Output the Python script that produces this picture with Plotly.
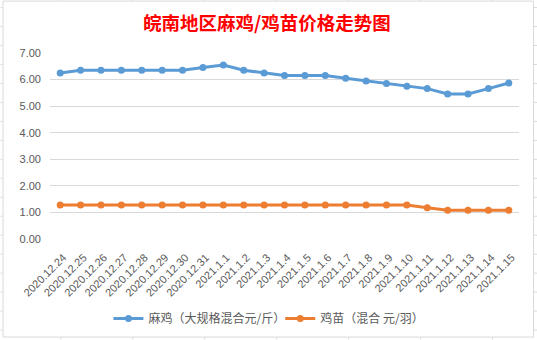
import plotly.graph_objects as go

dates = ["2020.12.24", "2020.12.25", "2020.12.26", "2020.12.27", "2020.12.28",
         "2020.12.29", "2020.12.30", "2020.12.31", "2021.1.1", "2021.1.2",
         "2021.1.3", "2021.1.4", "2021.1.5", "2021.1.6", "2021.1.7", "2021.1.8",
         "2021.1.9", "2021.1.10", "2021.1.11", "2021.1.12", "2021.1.13",
         "2021.1.14", "2021.1.15"]
maji = [6.25, 6.35, 6.35, 6.35, 6.35, 6.35, 6.35, 6.45, 6.55, 6.35, 6.25,
        6.15, 6.15, 6.15, 6.05, 5.95, 5.85, 5.75, 5.66, 5.46, 5.46, 5.66, 5.87]
jimiao = [1.28, 1.28, 1.28, 1.28, 1.28, 1.28, 1.28, 1.28, 1.28, 1.28, 1.28,
          1.28, 1.28, 1.28, 1.28, 1.28, 1.28, 1.28, 1.18, 1.08, 1.08, 1.08, 1.08]
y_ticks = [0, 1, 2, 3, 4, 5, 6, 7]

W, H = 537, 340
L, R, T, B = 49.5, 18, 53, 100.7
pw, ph = W - L - R, H - T - B

def px(x):
    return (x - L) / pw

def py(y):
    return (H - B - y) / ph

fig = go.Figure()
fig.add_trace(go.Scatter(
    x=dates, y=maji, mode="lines+markers", name="麻鸡（大规格混合元/斤）",
    line=dict(color="#5B9BD5", width=3), marker=dict(size=7, color="#5B9BD5"),
    legend="legend"))
fig.add_trace(go.Scatter(
    x=dates, y=jimiao, mode="lines+markers", name="鸡苗（混合 元/羽）",
    line=dict(color="#ED7D31", width=3), marker=dict(size=7, color="#ED7D31"),
    legend="legend2"))

shapes = []
# chart border
shapes.append(dict(type="rect", xref="paper", yref="paper",
                   x0=px(2.5), x1=px(533.5), y0=py(1), y1=py(337.5),
                   line=dict(color="#D9D9D9", width=1), layer="below"))
# spreadsheet cell grid visible outside the chart
for k in range(18):
    yy = 7 + 19 * k + 0.5
    shapes.append(dict(type="line", xref="paper", yref="paper",
                       x0=px(534), x1=px(537), y0=py(yy), y1=py(yy),
                       line=dict(color="#D9D9D9", width=1)))
    shapes.append(dict(type="line", xref="paper", yref="paper",
                       x0=px(0), x1=px(2), y0=py(yy), y1=py(yy),
                       line=dict(color="#D9D9D9", width=1)))
for k in range(7):
    xx = 60 + 72 * k + 0.5
    shapes.append(dict(type="line", xref="paper", yref="paper",
                       x0=px(xx), x1=px(xx), y0=py(338), y1=py(340),
                       line=dict(color="#D9D9D9", width=1)))
    shapes.append(dict(type="line", xref="paper", yref="paper",
                       x0=px(xx), x1=px(xx), y0=py(0), y1=py(0.9),
                       line=dict(color="#D9D9D9", width=1)))

legend_font = dict(family="Noto Sans CJK SC", size=12, color="#595959")

fig.update_layout(
    width=W, height=H,
    margin=dict(l=L, r=R, t=T, b=B, pad=0, autoexpand=False),
    paper_bgcolor="white", plot_bgcolor="white",
    title=dict(text="<b>皖南地区麻鸡/鸡苗价格走势图</b>",
               font=dict(family="Noto Sans CJK SC", size=18.5, color="#FF0000"),
               x=0.497, xref="container", xanchor="center",
               y=1 - 24 / H, yref="container", yanchor="middle"),
    xaxis=dict(type="category", range=[-0.5, len(dates) - 0.5],
               tickangle=-45, showgrid=False, showline=False, zeroline=False,
               tickfont=dict(family="Liberation Sans", size=11, color="#595959"),
               ticks="", ticklabelstandoff=9, ticklabelshift=3, automargin=False),
    yaxis=dict(range=[0, 7], tickvals=y_ticks, tickformat=".2f",
               showgrid=True, gridcolor="#D9D9D9", gridwidth=1,
               zeroline=False, showline=False, ticks="",
               ticklabelstandoff=8, automargin=False,
               tickfont=dict(family="Liberation Sans", size=11, color="#595959")),
    legend=dict(orientation="h", x=px(108), xanchor="left",
                y=py(319), yanchor="middle", font=legend_font,
                bgcolor="rgba(0,0,0,0)"),
    legend2=dict(orientation="h", x=px(280), xanchor="left",
                 y=py(319), yanchor="middle", font=legend_font,
                 bgcolor="rgba(0,0,0,0)"),
    shapes=shapes,
    showlegend=True,
)

fig.write_html("out.html")
